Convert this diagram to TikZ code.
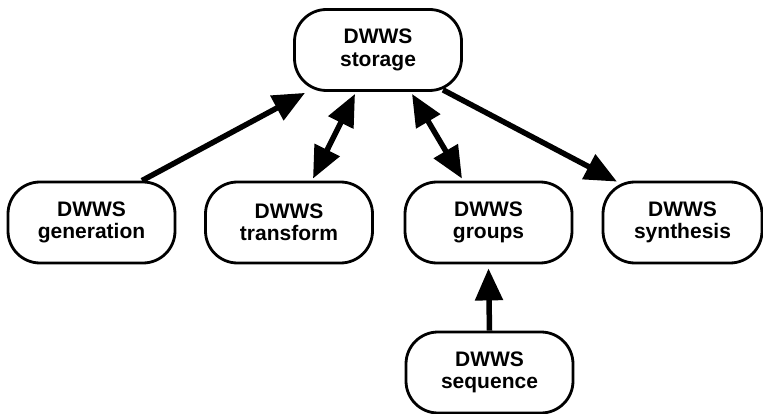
\documentclass[tikz,border=0pt]{standalone}
\usepackage{fontspec}
\setmainfont{Liberation Sans}
\usetikzlibrary{arrows.meta}
\begin{document}
\begin{tikzpicture}[x=1pt,y=1pt,
  box/.style={draw=black, line width=2.8pt, rounded corners=32pt, fill=white,
    minimum width=167pt, minimum height=81pt, inner sep=0pt, align=center,
    font=\fontsize{21pt}{22.5pt}\selectfont\bfseries},
  arr/.style={line width=5.5pt, -{Triangle[length=32pt,width=27pt]}},
  darr/.style={line width=5.5pt, {Triangle[length=32pt,width=27pt]}-{Triangle[length=32pt,width=27pt]}}]
\useasboundingbox (0,0) rectangle (763,-414);
\node[box] (st)  at (378,-50)    {DWWS\\storage};
\node[box] (gen) at (91.5,-222.5) {DWWS\\generation};
\node[box] (tr)  at (289,-222.5) {DWWS\\transform};
\node[box] (gr)  at (488.5,-222.5) {DWWS\\groups};
\node[box, minimum width=159pt] (syn) at (682.5,-222.5) {DWWS\\synthesis};
\node[box] (seq) at (489.5,-372.5) {DWWS\\sequence};
\draw[arr] ([xshift=50.5pt]gen.north) -- ([xshift=-73pt,yshift=-1pt]st.south);
\draw[darr] ([xshift=24pt,yshift=2pt]tr.north) -- ([xshift=-23pt,yshift=-2pt]st.south);
\draw[darr] ([xshift=34pt,yshift=-2pt]st.south) -- ([xshift=-26.5pt,yshift=2pt]gr.north);
\draw[arr] ([xshift=65pt,yshift=2pt]st.south) -- ([xshift=-65.5pt,yshift=-1pt]syn.north);
\draw[arr] (seq.north) -- ([yshift=-4pt]gr.south);
\end{tikzpicture}
\end{document}
